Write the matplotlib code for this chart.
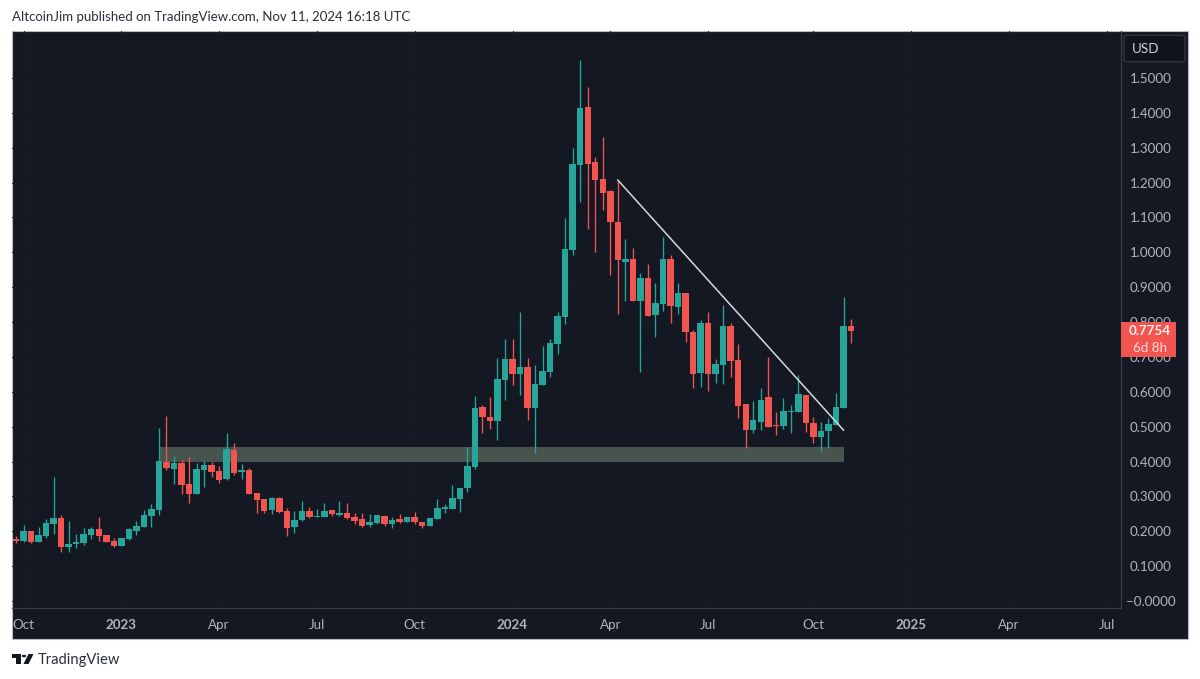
import matplotlib
matplotlib.use("Agg")
import matplotlib.pyplot as plt
import matplotlib.dates as mdates
import pandas as pd
from matplotlib.patches import Rectangle, FancyBboxPatch, Polygon, Circle

# weekly candles
weeks = pd.date_range("2022-09-26", periods=112, freq="W-MON")
opens = [.178,.172,.201,.169,.187,.221,.239,.155,.163,.166,
         .190,.206,.190,.173,.159,.177,.200,.213,.244,.261,
         .400,.379,.397,.336,.307,.377,.390,.374,.351,.433,
         .370,.376,.311,.293,.261,.295,.258,.213,.232,.259,
         .241,.241,.262,.248,.251,.241,.236,.217,.224,.244,
         .221,.234,.227,.241,.228,.215,.236,.263,.265,.293,
         .323,.385,.556,.528,.515,.634,.694,.651,.671,.554,
         .619,.656,.737,.815,1.007,1.249,1.417,1.259,1.210,1.175,
         1.087,.972,.980,.860,.926,.819,.852,.980,.844,.882,
         .772,.653,.796,.650,.677,.789,.691,.564,.489,.513,
         .584,.505,.502,.543,.543,.592,.511,.469,.487,.505,
         .554,.789]
closes = [.172,.201,.168,.190,.224,.239,.155,.164,.169,.192,
          .206,.187,.169,.159,.180,.206,.215,.246,.264,.401,
          .381,.397,.333,.307,.379,.390,.369,.347,.435,.368,
          .377,.308,.290,.258,.295,.256,.210,.232,.258,.240,
          .244,.259,.249,.251,.238,.230,.216,.227,.246,.220,
          .233,.227,.241,.227,.215,.238,.267,.269,.295,.323,
          .387,.554,.528,.515,.638,.694,.651,.671,.554,.622,
          .661,.740,.816,1.009,1.253,1.414,1.253,1.208,1.171,1.087,
          .977,.980,.860,.926,.818,.855,.980,.845,.882,.771,
          .650,.796,.650,.679,.789,.688,.558,.489,.520,.576,
          .499,.503,.546,.546,.594,.510,.469,.487,.508,.556,
          .789,.7754]
highs = [.186,.218,.201,.213,.235,.357,.246,.229,.192,.208,
         .211,.240,.190,.180,.180,.208,.229,.261,.278,.495,
         .531,.416,.404,.412,.395,.402,.400,.388,.481,.454,
         .392,.382,.311,.293,.299,.299,.266,.258,.288,.271,
         .263,.280,.262,.288,.280,.253,.253,.249,.246,.248,
         .240,.249,.241,.256,.228,.238,.293,.277,.332,.323,
         .443,.588,.561,.584,.696,.750,.750,.829,.696,.677,
         .731,.750,.830,1.097,1.298,1.552,1.475,1.274,1.330,1.179,
         1.207,1.038,1.011,.942,.967,.911,1.043,.992,.913,.882,
         .777,.806,.828,.694,.849,.798,.737,.564,.574,.610,
         .701,.541,.582,.562,.648,.592,.529,.514,.524,.596,
         .871,.808]
lows = [.165,.170,.167,.169,.181,.192,.141,.141,.152,.160,
        .177,.173,.169,.156,.158,.175,.189,.211,.212,.247,
        .376,.336,.307,.282,.307,.326,.357,.339,.347,.360,
        .351,.308,.251,.251,.250,.253,.187,.196,.230,.237,
        .240,.241,.244,.244,.236,.220,.213,.211,.222,.216,
        .208,.225,.227,.222,.208,.215,.236,.253,.263,.256,
        .314,.378,.481,.492,.462,.576,.620,.591,.519,.425,
        .619,.641,.708,.794,.992,1.145,1.067,1.000,1.121,.935,
        .823,.859,.860,.658,.818,.758,.833,.796,.822,.744,
        .610,.615,.602,.624,.622,.641,.526,.438,.483,.489,
        .499,.476,.494,.481,.543,.485,.454,.431,.440,.505,
        .554,.739]

price_ticks = [0, .1, .2, .3, .4, .5, .6, .7, .8, .9, 1.0, 1.1, 1.2, 1.3, 1.4, 1.5]
price_labels = ["\u22120.0000", "0.1000", "0.2000", "0.3000", "0.4000", "0.5000", "0.6000", "0.7000",
                "0.8000", "0.9000", "1.0000", "1.1000", "1.2000", "1.3000", "1.4000", "1.5000"]
date_ticks = ["2022-10-03", "2023-01-02", "2023-04-03", "2023-07-03", "2023-10-02", "2024-01-01",
              "2024-04-01", "2024-07-01", "2024-10-07", "2025-01-06", "2025-04-07", "2025-07-07"]
date_labels = ["Oct", "2023", "Apr", "Jul", "Oct", "2024", "Apr", "Jul", "Oct", "2025", "Apr", "Jul"]
zone_low, zone_high = .398, .441
trend_prices = [1.207, .49]

UP = "#26a69a"
DOWN = "#f25550"
BG = "#141823"
LABEL = "#b2b5be"
W, H = 1200, 679

plt.rcParams["font.family"] = ["Lato", "DejaVu Sans"]
fig = plt.figure(figsize=(W / 100, H / 100), dpi=100, facecolor="white")


def fx(px):
    return px / W


def fy(py):
    return 1 - py / H


def box(x0, y0, x1, y1, **kw):
    fig.add_artist(Rectangle((fx(x0), fy(y1)), (x1 - x0) / W, (y1 - y0) / H, transform=fig.transFigure, **kw))


box(12, 31, 1188, 639, facecolor=BG, edgecolor="#b8bac0", linewidth=0.8, zorder=-1)

ax = fig.add_axes([fx(12), fy(608), (1120.7 - 12) / W, (608 - 31) / H], facecolor="none")
x = mdates.date2num(weeks)
px_per_day = 7.523 / 7
ax.set_xlim(x[0] - 4 / px_per_day, x[0] + 1104.7 / px_per_day)
ax.set_ylim(-.02, 1.6346)

colors = [UP if c >= o else DOWN for o, c in zip(opens, closes)]
ax.fill_between([x[19], x[110]], zone_low, zone_high, color="#47534d", linewidth=0, zorder=1)
ax.vlines(x, lows, highs, colors=colors, linewidth=0.95, zorder=2)
bottoms = [min(o, c) for o, c in zip(opens, closes)]
heights = [max(abs(c - o), .002) for o, c in zip(opens, closes)]
ax.bar(x, heights, bottom=bottoms, width=6.0, color=colors, linewidth=0, zorder=3)
ax.plot([x[80], x[110]], trend_prices, color="#d8d9dc", linewidth=1.1, zorder=4)

ax.grid(True, color="#191d28", linewidth=0.7, zorder=0)
ax.set_axisbelow(True)
for s in ["left", "top"]:
    ax.spines[s].set_visible(False)
for s in ["right", "bottom"]:
    ax.spines[s].set_color("#3a3e49")
    ax.spines[s].set_linewidth(0.9)

ax.yaxis.tick_right()
ax.set_yticks(price_ticks)
ax.set_yticklabels(price_labels, color=LABEL, fontsize=9.6, ha="center")
ax.tick_params(axis="y", length=0, pad=21.5)
ax.set_xticks(mdates.date2num(pd.to_datetime(date_ticks)))
ax.set_xticklabels(date_labels, color=LABEL, fontsize=9.6)
ax.tick_params(axis="x", length=0, pad=8)
for lab in ax.get_xticklabels():
    if lab.get_text().isdigit():
        lab.set_fontweight("bold")

# USD button
fig.add_artist(FancyBboxPatch((fx(1127), fy(60)), 55 / W, 23 / H, transform=fig.transFigure,
                              boxstyle="round,pad=0.0025", facecolor="#10131c", edgecolor="#30343f",
                              linewidth=1, zorder=5))
fig.text(fx(1146), fy(49), "USD", color="#d1d4dc", fontsize=9.6, ha="center", va="center", zorder=6)

# last price tag
box(1120.7, 322, 1175.7, 357, facecolor="#f25550", linewidth=0, zorder=5)
fig.text(fx(1150), fy(331), "0.7754", color="#ffeeee", fontsize=9.6, fontweight="bold", ha="center", va="center", zorder=6)
fig.text(fx(1150), fy(347.5), "6d 8h", color="#ffdcdc", fontsize=9.6, ha="center", va="center", zorder=6)

fig.text(fx(12), fy(17), "AltcoinJim published on TradingView.com, Nov 11, 2024 16:18 UTC",
         color="#2a2e39", fontsize=9.5, ha="left", va="center")

# logo
logo = "#131722"
box(12, 654, 21, 658, facecolor=logo, linewidth=0)
box(16, 658, 21, 664, facecolor=logo, linewidth=0)
fig.add_artist(Circle((fx(24), fy(656)), 2.2 / W, transform=fig.transFigure, facecolor=logo, linewidth=0))
fig.add_artist(Polygon([(fx(28.5), fy(654)), (fx(33.5), fy(654)), (fx(28.5), fy(664)), (fx(23.5), fy(664))],
                       transform=fig.transFigure, facecolor=logo, linewidth=0))
fig.text(fx(38), fy(660), "TradingView", color="#2a2e39", fontsize=10.6, ha="left", va="center")

fig.savefig("out.png", dpi=100)
